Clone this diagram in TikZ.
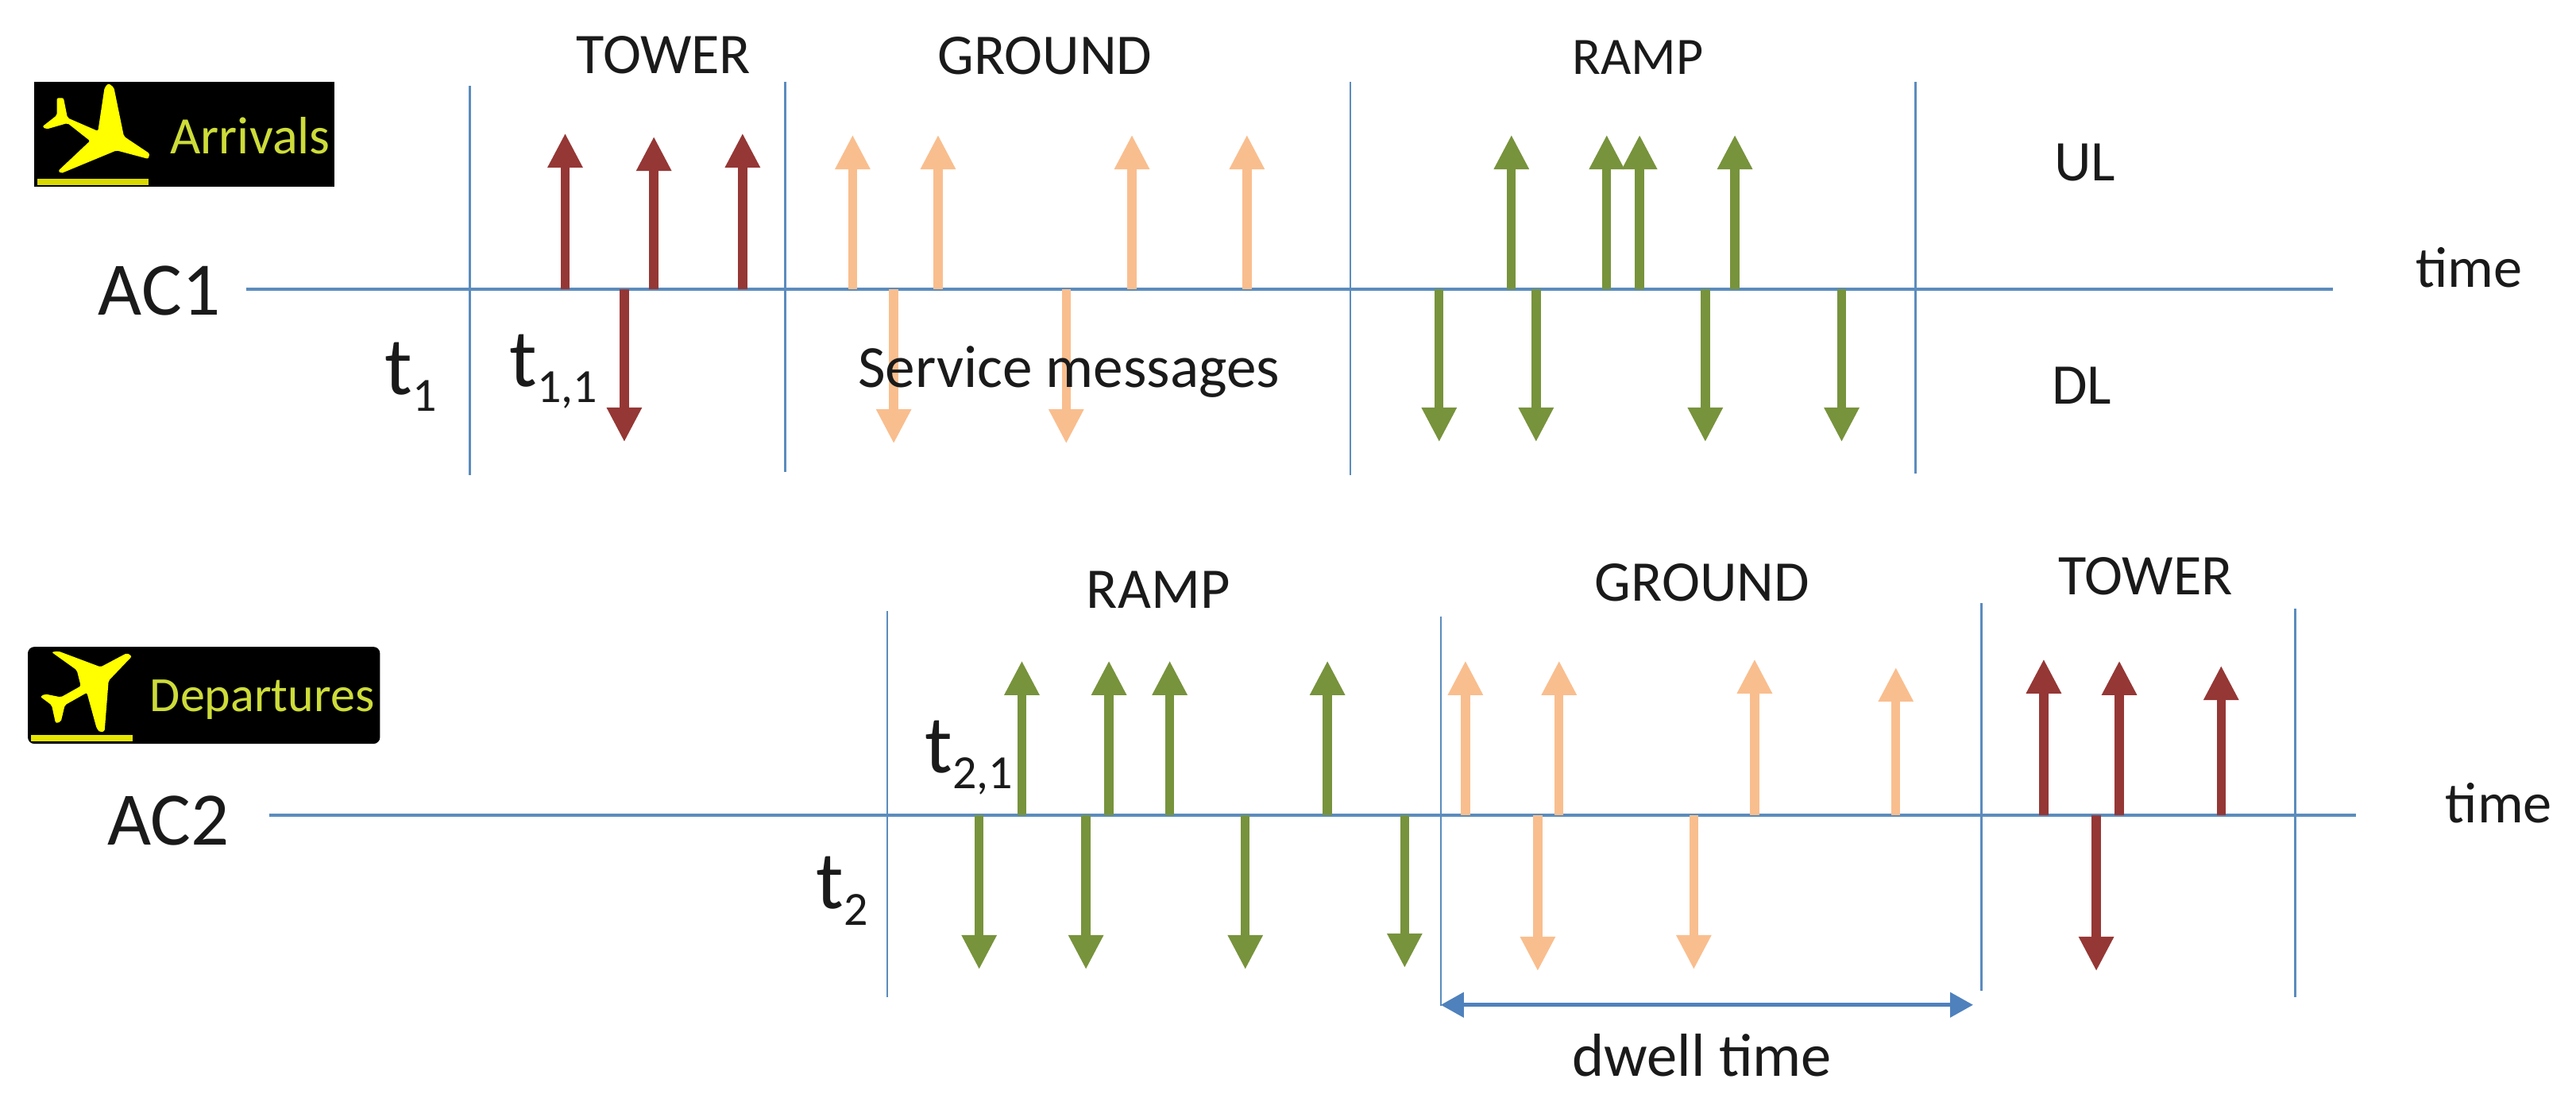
\documentclass[tikz,border=0pt]{standalone}
\usepackage{fontspec}
\setmainfont{Carlito}
\usetikzlibrary{arrows.meta}
\definecolor{lineblue}{HTML}{5B8CBD}
\definecolor{dwellblue}{HTML}{4F81BD}
\definecolor{redarrow}{HTML}{953735}
\definecolor{orangearrow}{HTML}{F9BE8E}
\definecolor{greenarrow}{HTML}{77933C}
\definecolor{logoyellow}{HTML}{FFFF00}
\definecolor{logotext}{HTML}{CDDC39}
\definecolor{ink}{HTML}{1A1A1A}
\newcommand{\subtxt}[1]{\raisebox{-10pt}{\fontsize{29}{29}\selectfont #1}}
\tikzset{
  axisline/.style={draw=lineblue,line width=1.9pt},
  divider/.style={draw=lineblue,line width=1.3pt},
  msg/.style={line width=5.5pt,-{Triangle[width=20pt,length=21pt]}},
  lab/.style={anchor=base,inner sep=0pt,text=ink,font=\fontsize{35}{35}\selectfont},
  big/.style={anchor=base,inner sep=0pt,text=ink,font=\fontsize{46}{46}\selectfont},
  sym/.style={anchor=base west,inner sep=0pt,text=ink,font=\fontsize{50}{50}\selectfont},
  logotxt/.style={inner sep=0pt,anchor=base,text=logotext},
}
\begin{document}
\begin{tikzpicture}[x=1pt,y=-1pt]
\useasboundingbox (0,0) rectangle (1568,672.6);
% axes
\coordinate (a1s) at (150,176); \coordinate (a1e) at (1420,176);
\coordinate (a2s) at (164,496); \coordinate (a2e) at (1434,496);
\draw[axisline] (a1s) -- (a1e);
\draw[axisline] (a2s) -- (a2e);
% dividers
\foreach \n/\x/\t/\b in {A/286/52/289,B/478/50/287,C/822/50/289,D/1166/50/288,E/540/372/607,F/877/375/612,G/1206/367/603,H/1397/370.5/607}{
  \coordinate (d\n t) at (\x,\t); \coordinate (d\n b) at (\x,\b);
  \draw[divider] (d\n t) -- (d\n b);
}
% arrows AC1
\foreach \c/\x/\y/\l in {redarrow/344/81/a,redarrow/398/83/b,redarrow/452/81/c,redarrow/380/269/d,
 orangearrow/519/82/e,orangearrow/571/82/f,orangearrow/689/82/g,orangearrow/759/82/h,orangearrow/544/270/i,orangearrow/649/270/j,
 greenarrow/920/82/k,greenarrow/978/82/l,greenarrow/998/82/m,greenarrow/1056/82/n,greenarrow/876/269/o,greenarrow/935/269/p,greenarrow/1038/269/q,greenarrow/1121/269/r}{
  \coordinate (s\l) at (\x,176); \coordinate (e\l) at (\x,\y);
  \draw[msg,draw=\c,\c] (s\l) -- (e\l);
}
% arrows AC2
\foreach \c/\x/\y/\l in {greenarrow/622/402/a,greenarrow/675/402/b,greenarrow/712/402/c,greenarrow/808/402/d,greenarrow/596/590/e,greenarrow/661/590/f,greenarrow/758/590/g,greenarrow/855/589/h,
 orangearrow/892/402/i,orangearrow/949/402/j,orangearrow/1068/401/k,orangearrow/1154/406/l,orangearrow/936/591/m,orangearrow/1031/590/n,
 redarrow/1244/401/o,redarrow/1290/402/p,redarrow/1352/405/q,redarrow/1276/591/r}{
  \coordinate (u\l) at (\x,496); \coordinate (v\l) at (\x,\y);
  \draw[msg,draw=\c,\c] (u\l) -- (v\l);
}
% dwell
\coordinate (dw1) at (877,611.5); \coordinate (dw2) at (1201,611.5);
\draw[dwellblue,line width=2.2pt,{Triangle[width=15pt,length=14pt]}-{Triangle[width=15pt,length=14pt]}] (dw1) -- (dw2);
% labels
\node[lab] (l1) at (404,44.5) {TOWER};
\node[lab] (l2) at (636,45) {GROUND};
\node[lab,font=\fontsize{32}{32}\selectfont] (l3) at (997,45) {RAMP};
\node[lab] (l4) at (1269,110) {UL};
\node[lab] (l5) at (1267,246) {DL};
\node[lab] (l6) at (1503,175) {time};
\node[big] (l7) at (97,191.5) {AC1};
\node[sym] (l8) at (234,240) {t\subtxt{1}};
\node[sym] (l9) at (310,235) {t\subtxt{1,1}};
\node[lab,anchor=base west,font=\fontsize{36.4}{36}\selectfont] (l10) at (522,235.7) {Service messages};
\node[lab] (l11) at (705,370) {RAMP};
\node[lab] (l12) at (1036,366) {GROUND};
\node[lab] (l13) at (1306,362) {TOWER};
\node[lab] (l14) at (1521,500.5) {time};
\node[lab,font=\fontsize{37}{37}\selectfont] (l15) at (1036,655) {dwell time};
\node[big] (l16) at (102.6,514) {AC2};
\node[sym] (l17) at (496.6,553) {t\subtxt{2}};
\node[sym] (l18) at (563,470) {t\subtxt{2,1}};
% Arrivals logo
\begin{scope}[shift={(14.5,43.5)},x=0.1612pt,y=-0.1612pt]
\fill[black] (40,38) rectangle (1172,435);
\fill[logoyellow,rounded corners=1pt] (320,45) -- (340,60) -- (378,245) -- (475,310) -- (470,330) -- (350,298) -- (140,385) -- (130,375) -- (250,262) -- (165,195) -- (85,218) -- (70,208) -- (125,165) -- (125,100) -- (150,100) -- (165,175) -- (280,225) -- (305,60) -- cycle;
\fill[logoyellow!85!black] (52,405) rectangle (470,428);
\node[logotxt,font=\fontsize{32}{32}\selectfont] (arr) at (855,310) {Arrivals};
\end{scope}
% Departures logo
\begin{scope}[shift={(9.67,386.85)},x=0.1612pt,y=-0.1612pt]
\fill[black,rounded corners=4pt] (45,42) -- (1375,42) -- (1375,408) -- (45,408) -- cycle;
\fill[logoyellow,rounded corners=1pt] (135,62) -- (160,58) -- (320,118) -- (420,65) -- (438,78) -- (350,170) -- (335,360) -- (318,365) -- (305,350) -- (268,215) -- (185,262) -- (170,325) -- (150,330) -- (135,262) -- (92,230) -- (110,220) -- (170,232) -- (245,190) -- (230,130) -- cycle;
\fill[logoyellow!90!black] (58,375) rectangle (440,400);
\node[logotxt,font=\fontsize{30}{30}\selectfont] (dep) at (930,285) {Departures};
\end{scope}
\end{tikzpicture}
\end{document}
